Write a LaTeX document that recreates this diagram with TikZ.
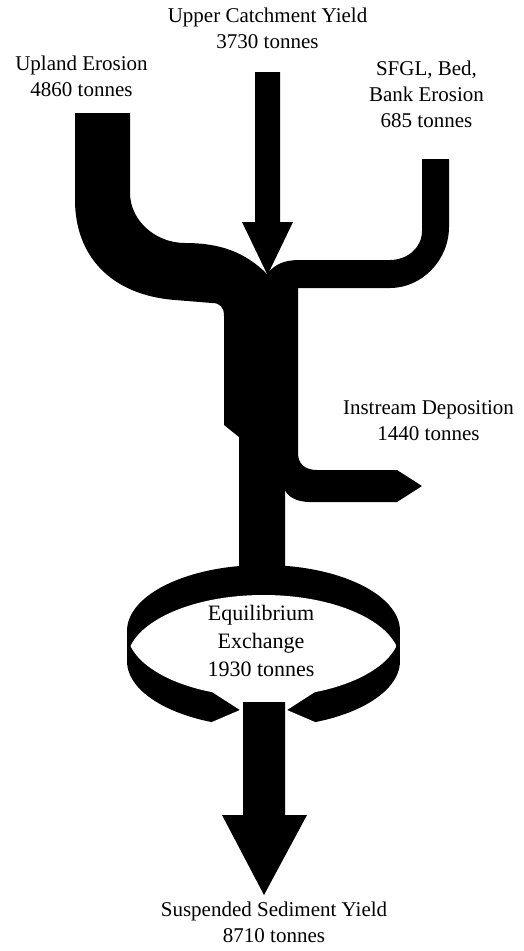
\documentclass[tikz,border=0pt]{standalone}
\usepackage{fontspec}
\setmainfont{Liberation Serif}
\usepackage{tikz}
\usetikzlibrary{positioning}

\tikzset{
  flow/.style={fill=black},
  flowtext/.style={font=\fontsize{21}{26}\selectfont, align=center, anchor=base, inner sep=0pt},
}

\begin{document}
\begin{tikzpicture}[x=1pt, y=-1pt]
\useasboundingbox (0,0) rectangle (524,951);
% Exchange ring: two offset ellipses joined at the sides
\fill[flow] (263.5,631) ellipse [x radius=136.5, y radius=66];
\fill[flow] (263.5,661) ellipse [x radius=136.5, y radius=66];
\fill[flow] (127,631) rectangle (400,661);
\begin{scope}
  \clip (263.5,631) ellipse [x radius=136.5, y radius=66];
  \fill[white] (263.5,661) ellipse [x radius=136.5, y radius=66];
\end{scope}
% gap at the front of the ring, ends cut to points
\fill[white] (212,692) -- (240,710) -- (212,722) -- (212,745) -- (315,745)
  -- (315,722) -- (287,710) -- (315,692) -- (315,680) -- (212,680) -- cycle;
% Inflow bands, trunk and deposition branch (one outline)
\fill[flow] (75,113) -- (130,113) -- (130,193)
  .. controls (130,220) and (155,243) .. (185,243)
  .. controls (220,243) and (245,252) .. (267,274)
  .. controls (275,264) and (284,260) .. (300,260)
  -- (390,260) .. controls (407,260) and (422,248) .. (422,231)
  -- (422,159) -- (449,159) -- (449,227)
  .. controls (449,260) and (422,288) .. (390,288)
  -- (298,288) -- (298,453)
  .. controls (298,464) and (305,470) .. (317,470)
  -- (397,470) -- (422,486) -- (397,502) -- (310,502)
  .. controls (297,502) and (288,497) .. (285,490)
  -- (285,578) -- (239,578) -- (239,437) -- (224,425) -- (224,316)
  .. controls (224,307) and (220,303) .. (212,303)
  -- (175,300) .. controls (110,295) and (75,255) .. (75,200) -- cycle;
% Upper catchment arrow
\fill[flow] (255,72) -- (280,72) -- (280,222) -- (293,222) -- (267.5,275)
  -- (242,222) -- (255,222) -- cycle;
% Outflow arrow
\fill[flow] (243,702) -- (285,702) -- (285,815) -- (307,815) -- (264,895)
  -- (222,815) -- (243,815) -- cycle;
% Labels (placed by the baseline of their last line)
\node[flowtext] (catchment) at (267.5,48) {Upper Catchment Yield\\3730 tonnes};
\node[flowtext] (upland) at (81.5,96) {Upland Erosion\\4860 tonnes};
\node[flowtext] (bankerosion) at (426.5,127) {SFGL, Bed,\\Bank Erosion\\685 tonnes};
\node[flowtext] (instream) at (428.5,440) {Instream Deposition\\1440 tonnes};
\node[flowtext, font=\fontsize{22}{28}\selectfont] (exchange) at (261,676) {Equilibrium\\Exchange\\1930 tonnes};
\node[flowtext] (yield) at (274,942) {Suspended Sediment Yield\\8710 tonnes};
\end{tikzpicture}
\end{document}
